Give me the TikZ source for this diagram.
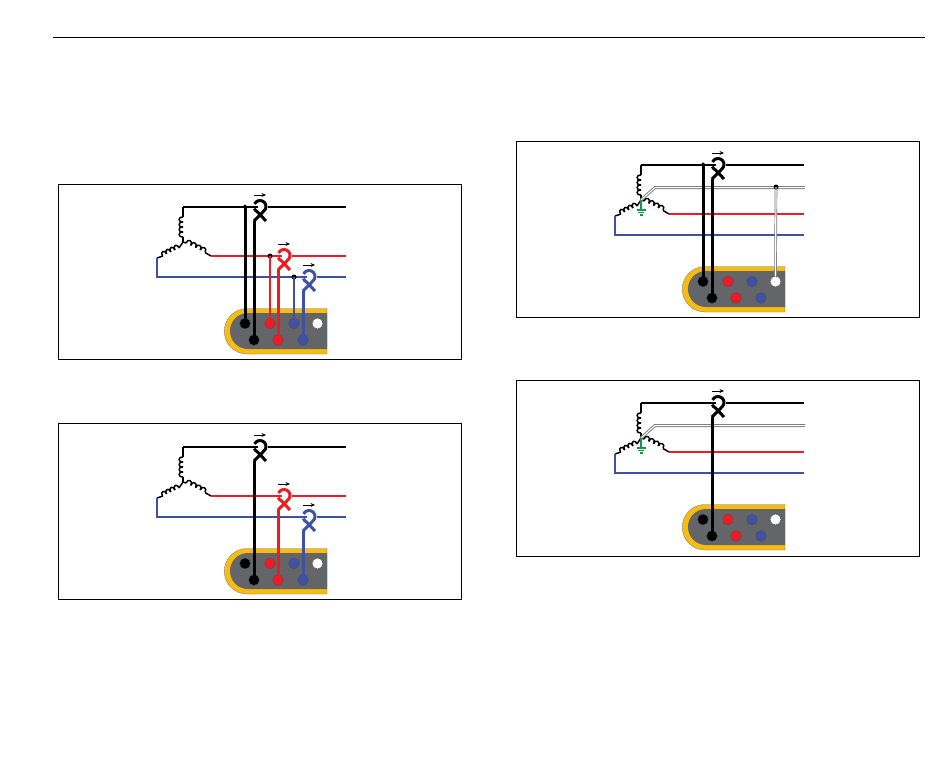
\documentclass[tikz,border=0pt]{standalone}
\usetikzlibrary{arrows.meta}
\definecolor{wred}{HTML}{ED1C24}
\definecolor{wblue}{HTML}{3F51A5}
\definecolor{wgreen}{HTML}{109A48}
\definecolor{dyellow}{HTML}{F7BC0F}
\definecolor{dgray}{HTML}{636569}
\tikzset{
  framebox/.style={draw=black,line width=0.8pt,fill=white},
  wirek/.style={line width=2pt,black},
  wirer/.style={line width=2pt,wred},
  wireb/.style={line width=2pt,wblue},
  leadk/.style={line width=3pt,black},
  leadc/.style={line width=3pt},
  tapk/.style={line width=3pt,black},
  tapc/.style={line width=2.4pt},
  term/.style={circle,minimum size=10.8pt,inner sep=0pt,draw=black!70,line width=0.3pt},
  tapdot/.style={circle,fill=black,minimum size=5pt,inner sep=0pt},
  coilw/.style={line width=1.5pt,black,line join=round},
  plainw/.style={line width=1.5pt,black},
  gnd/.style={line width=1.2pt,wgreen},
}
% winding: #1 x, #2 y, #3 rotation, #4 number of turns, #5 step
\newcommand\winding[5]{%
  \begin{scope}[shift={(#1,#2)},rotate=#3]
    \foreach \i in {1,...,#4}{%
      \pgfmathsetmacro\xa{(\i-1)*#5}
      \pgfmathsetmacro\xb{\i*#5}
      \pgfmathsetmacro\ca{\xa-0.15*#5}
      \pgfmathsetmacro\cb{\xb+0.15*#5}
      \draw[coilw] (\xa,0) .. controls (\ca,-5.2) and (\cb,-5.2) .. (\xb,0);
    }
  \end{scope}}
% clamp: #1 suffix, #2 x, #3 y, #4 colour
\newcommand\clamp[4]{%
  \begin{scope}[shift={(#2,#3-0.5)}]
    \coordinate (leg#1) at (-6,14.5);
    \draw[line width=3pt,#4,line join=round] (155:6pt) arc[start angle=155,end angle=-55,radius=6pt] -- (leg#1);
    \draw[line width=3pt,#4,line join=round] (200:6pt) arc[start angle=200,end angle=245,radius=6pt] -- (6,14.5);
    \draw[line width=1pt,black,-{Stealth[length=4.5pt,width=4pt]}] (-6,-11.5) -- (6,-11.5);
  \end{scope}}
% #1 frame top, #2 frame bottom
\newcommand\commonparts[2]{%
  \draw[framebox] (58,#1) rectangle (461,#2);
  \coordinate (top) at (183,207);
  \coordinate (star) at (183,242);
  \coordinate (lft) at (157,258);
  \coordinate (rgt) at (211,256);
  \coordinate (kend) at (346,207);
  \coordinate (rend) at (346,256);
  \coordinate (bend) at (346,277);
  \coordinate (bleft) at (157,277);
  % windings
  \draw[plainw] (top) -- (183,217);
  \winding{183}{237}{90}{4}{5}
  \draw[plainw] (183,237) -- (star);
  \draw[plainw] (star) -- (186,243);
  \winding{186}{243}{-26}{4}{5.3}
  \draw[plainw] (205,252.5) -- (rgt);
  \draw[plainw] (star) -- (179,248);
  \winding{162.5}{256}{26}{4}{4.6}
  \draw[plainw] (163,256) -- (lft);
  % instrument
  \draw[fill=dyellow,draw=black!55,line width=0.3pt] (327,308.5) -- (247,308.5) arc[start angle=90,end angle=270,radius=22.75pt] -- (327,354) -- cycle;
  \fill[dgray] (327,313) -- (248,313) arc[start angle=90,end angle=270,radius=18pt] -- (327,349) -- cycle;
  \node[term,fill=black] (tk) at (245,323.5) {};
  \node[term,fill=wred] (tr) at (270,323.5) {};
  \node[term,fill=wblue] (tb) at (294,323.5) {};
  \node[term,fill=white] (tn) at (317.5,323.5) {};
  \node[term,fill=black] (ik) at (254,340) {};
  \node[term,fill=wred] (ir) at (278,340) {};
  \node[term,fill=wblue] (ib) at (303,340) {};
}
% wires for the three-clamp panels
\newcommand\threeclamps{%
  \draw[wirek] (top) -- (258,207);
  \draw[wirek] (268,207) -- (kend);
  \draw[wirer] (rgt) -- (282,256);
  \draw[wirer] (292,256) -- (rend);
  \draw[wireb,line join=miter] (lft) -- (bleft) -- (307,277);
  \draw[wireb] (317,277) -- (bend);
  \clamp{k}{260}{207}{black}
  \clamp{r}{284}{256}{wred}
  \clamp{b}{309}{277}{wblue}
  \draw[leadk] (legk) -- (ik.center);
  \draw[leadc,wred] (legr) -- (ir.center);
  \draw[leadc,wblue] (legb) -- (ib.center);
}
% the single clamp panels with neutral and earth
\newcommand\neutralparts{%
  \coordinate (nbend) at (197,229.5);
  \coordinate (nend) at (347,229.5);
  \draw[line width=3pt,black!50,line join=miter] (star) -- (nbend) -- (nend);
  \draw[line width=1pt,white,line join=miter,shift={(0,-0.5)}] (star) -- (nbend) -- (nend);
  \coordinate (gbot) at (183,252);
  \draw[gnd] (star) -- (gbot);
  \draw[gnd] (178.5,252) -- (187.5,252);
  \draw[gnd] (180,254.5) -- (186,254.5);
  \draw[gnd] (181.5,257) -- (184.5,257);
  \draw[wirer] (rgt) -- (rend);
  \draw[wireb,line join=miter] (lft) -- (bleft) -- (bend);
  \draw[wirek] (top) -- (258,207);
  \draw[wirek] (268,207) -- (kend);
  \clamp{k}{260}{207}{black}
  \draw[leadk] (legk) -- (ik.center);
}
\begin{document}
\begin{tikzpicture}[x=1pt,y=-1pt]
\useasboundingbox (0,0) rectangle (950,782);
\coordinate (ruleL) at (53,37);
\coordinate (ruleR) at (925,37);
\draw[line width=0.8pt] (ruleL) -- (ruleR);

% panel 1
\begin{scope}[name prefix=a-]
  \commonparts{184}{359}
  \threeclamps
  \node[tapdot,minimum size=3.5pt] (dk) at (245,206) {};
  \node[tapdot] (dr) at (270,256) {};
  \node[tapdot] (db) at (294,277) {};
  \draw[tapk] (dk) -- (tk.center);
  \draw[tapc,wred] (dr.center) -- (tr.center);
  \draw[tapc,wblue] (db.center) -- (tb.center);
\end{scope}

% panel 2
\begin{scope}[shift={(0,240)},name prefix=b-]
  \commonparts{183}{359}
  \threeclamps
\end{scope}

% panel 3
\begin{scope}[shift={(458,-42)},name prefix=c-]
  \commonparts{183}{359}
  \neutralparts
  \node[tapdot,minimum size=3.5pt] (dk) at (245,206) {};
  \node[tapdot] (dn) at (318,229) {};
  \draw[tapk] (dk) -- (tk.center);
  \draw[line width=2.6pt,black!55] (dn.center) -- (tn.north);
  \draw[line width=1.2pt,white] (dn.south) -- (tn.north);
\end{scope}

% panel 4
\begin{scope}[shift={(458,196)},name prefix=d-]
  \commonparts{184}{360}
  \neutralparts
\end{scope}
\end{tikzpicture}
\end{document}
